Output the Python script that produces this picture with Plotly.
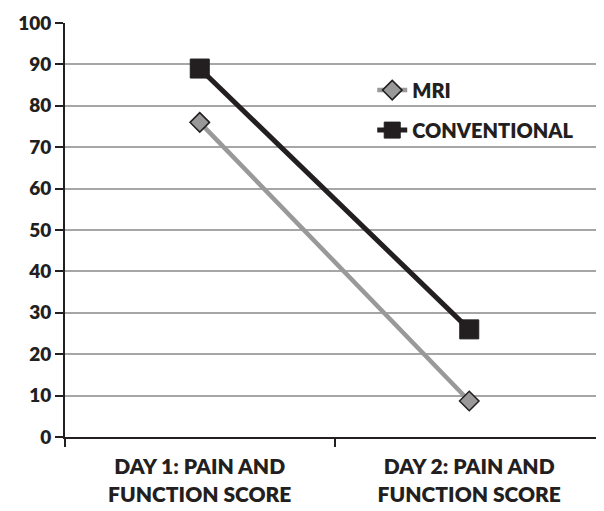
import plotly.graph_objects as go

categories = ["DAY 1: PAIN AND<br>FUNCTION SCORE", "DAY 2: PAIN AND<br>FUNCTION SCORE"]
mri = [76, 8.7]
conventional = [89, 26]
y_ticks = [0, 10, 20, 30, 40, 50, 60, 70, 80, 90, 100]

FONT = "Lato"
TXT = "#231f20"
W = 800

fig = go.Figure()
fig.add_trace(go.Scatter(
    x=categories, y=mri, name="MRI", mode="lines+markers",
    line=dict(color="#999999", width=4.5),
    marker=dict(symbol="diamond", size=15, color="#999999",
                line=dict(color="#231f20", width=1.5)),
    legendgroup="a",
))
fig.add_trace(go.Scatter(
    x=categories, y=conventional, name="CONVENTIONAL", mode="lines+markers",
    line=dict(color="#231f20", width=5),
    marker=dict(symbol="square", size=19, color="#231f20",
                line=dict(color="#231f20", width=1)),
    legendgroup="b",
))

fig.update_layout(
    width=596, height=503,
    margin=dict(l=57, r=0, t=15, b=74),
    plot_bgcolor="white", paper_bgcolor="white",
    font=dict(family=FONT, size=19, color=TXT),
    showlegend=True,
    legend=dict(x=0.57, y=0.885, xanchor="left", yanchor="top",
                bgcolor="rgba(0,0,0,0)", tracegroupgap=11,
                font=dict(family=FONT, size=20, color=TXT, weight=W)),
    xaxis=dict(
        type="category", range=[-0.5, 1.5], automargin=False,
        showline=True, linecolor=TXT, linewidth=2,
        ticks="outside", ticklen=8, tickcolor=TXT, tickwidth=2,
        tickson="boundaries", showgrid=False,
        ticklabelstandoff=10,
        tickfont=dict(family=FONT, size=21, color=TXT, weight=W),
    ),
    yaxis=dict(
        range=[0, 100], tickvals=y_ticks, automargin=False,
        showline=True, linecolor=TXT, linewidth=2,
        ticks="outside", ticklen=8, tickcolor=TXT, tickwidth=2,
        showgrid=True, gridcolor="#a6a6a6", gridwidth=1.5,
        zeroline=False,
        tickfont=dict(family=FONT, size=19, color=TXT, weight=W),
    ),
)

fig.write_html("out.html")
